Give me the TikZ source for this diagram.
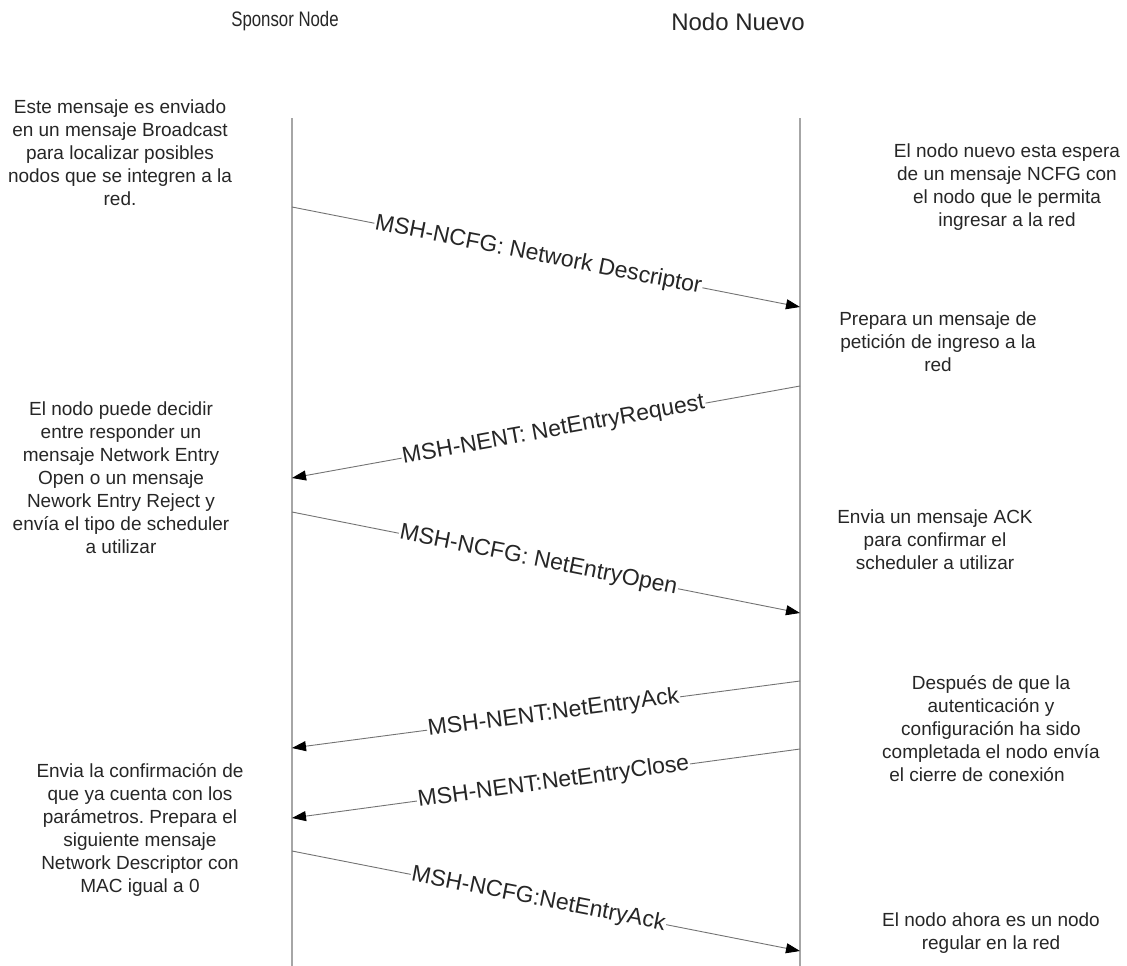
\documentclass[tikz,border=0pt]{standalone}
\usepackage{fontspec}
\setmainfont{Liberation Sans}
\usetikzlibrary{arrows.meta}
\frenchspacing
\begin{document}
\begin{tikzpicture}[x=1pt,y=-1pt,
  lifeline/.style={draw=black!35, line width=1.4pt},
  msg/.style={draw=black!55, line width=0.9pt,
    -{Triangle[length=14pt,width=10pt,color=black]}},
  msglabel/.style={sloped, fill=white, inner sep=1pt, text=black!85,
    font=\fontsize{23}{27}\selectfont, pos=0.485},
  note/.style={align=center, text=black!85, font=\fontsize{19}{23}\selectfont, inner sep=0pt},
  header/.style={text=black!85, inner sep=0pt}]
\useasboundingbox (0,0) rectangle (1127,966);

% participants
\node[header, font=\fontsize{21}{24}\selectfont] (sp) at (285,21) {\scalebox{0.8}[1]{Sponsor Node}};
\node[header, font=\fontsize{24}{28}\selectfont] (nn) at (738,22) {Nodo Nuevo};

% lifelines
\coordinate (spTop) at (292,118);
\coordinate (spBot) at (292,966);
\coordinate (nnTop) at (800,118);
\coordinate (nnBot) at (800,966);
\draw[lifeline] (spTop) -- (spBot);
\draw[lifeline] (nnTop) -- (nnBot);

% message end points on the lifelines
\coordinate (m1a) at (292,207); \coordinate (m1b) at (800,307);
\coordinate (m2a) at (800,386); \coordinate (m2b) at (292,478);
\coordinate (m3a) at (292,512); \coordinate (m3b) at (800,613);
\coordinate (m4a) at (800,681); \coordinate (m4b) at (292,748);
\coordinate (m5a) at (800,749); \coordinate (m5b) at (292,818);
\coordinate (m6a) at (292,851); \coordinate (m6b) at (800,951);

% messages
\draw[msg] (m1a) -- node[msglabel] {MSH-NCFG: Network Descriptor} (m1b);
\draw[msg] (m2a) -- node[msglabel] {MSH-NENT: NetEntryRequest} (m2b);
\draw[msg] (m3a) -- node[msglabel] {MSH-NCFG: NetEntryOpen} (m3b);
\draw[msg] (m4a) -- node[msglabel] {MSH-NENT:NetEntryAck} (m4b);
\draw[msg] (m5a) -- node[msglabel] {MSH-NENT:NetEntryClose} (m5b);
\draw[msg] (m6a) -- node[msglabel] {MSH-NCFG:NetEntryAck} (m6b);

% notes beside the Sponsor Node
\node[note] (n1) at (120,153) {Este mensaje es enviado\\en un mensaje Broadcast\\para localizar posibles\\nodos que se integren a la\\red.};
\node[note] (n2) at (121,478) {El nodo puede decidir\\entre responder un\\mensaje Network Entry\\Open o un mensaje\\Nework Entry Reject y\\envía el tipo de scheduler\\a utilizar};
\node[note] (n3) at (140,830) {Envia la confirmación de\\que ya cuenta con los\\parámetros. Prepara el\\siguiente mensaje\\Network Descriptor con\\MAC igual a 0};

% notes beside the Nodo Nuevo
\node[note] (r1) at (1007,187) {El nodo nuevo esta espera\\de un mensaje NCFG con\\el nodo que le permita\\ingresar a la red};
\node[note] (r2) at (938,342) {Prepara un mensaje de\\petición de ingreso a la\\red};
\node[note] (r3) at (935,540) {Envia un mensaje ACK\\para confirmar el\\scheduler a utilizar};
\node[note] (r4) at (991,729) {Después de que la\\autenticación y\\configuración ha sido\\completada el nodo envía\\el cierre de conexión\hspace*{28pt}};
\node[note] (r5) at (991,933) {El nodo ahora es un nodo\\regular en la red};
\end{tikzpicture}
\end{document}
